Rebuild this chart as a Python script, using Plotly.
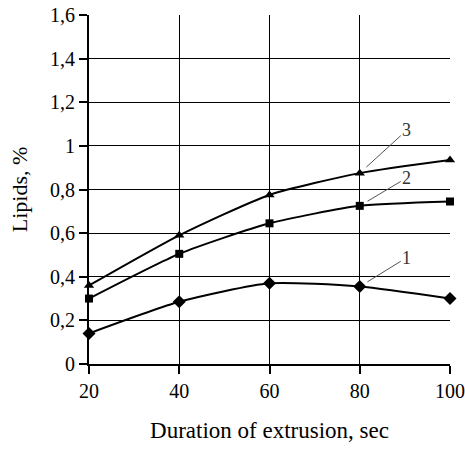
import plotly.graph_objects as go

durations = [20, 40, 60, 80, 100]
lipids_1 = [0.14, 0.285, 0.37, 0.355, 0.30]
lipids_2 = [0.30, 0.505, 0.645, 0.725, 0.745]
lipids_3 = [0.36, 0.59, 0.775, 0.875, 0.935]
series_labels = ["1", "2", "3"]
y_ticks = [0, 0.2, 0.4, 0.6, 0.8, 1, 1.2, 1.4, 1.6]
x_ticks = [20, 40, 60, 80, 100]

font = "Liberation Serif, Times New Roman, serif"
fig = go.Figure()
for ys, sym, sz in [(lipids_1, "diamond", 10), (lipids_2, "square", 8), (lipids_3, "triangle-up", 9)]:
    fig.add_trace(go.Scatter(
        x=durations, y=ys, mode="lines+markers",
        line=dict(color="black", width=2, shape="spline", smoothing=0.6),
        marker=dict(symbol=sym, size=sz, color="black"),
        showlegend=False, cliponaxis=False))

# leader-line labels
label_pos = [(80, 0.355, -29), (80, 0.725, -28), (80, 0.875, -43)]
for lab, (xv, yv, dy) in zip(series_labels, label_pos):
    fig.add_annotation(x=xv, y=yv, text=lab, showarrow=True, arrowhead=0,
                       arrowwidth=1, arrowcolor="#555555", ax=47, ay=dy, standoff=9,
                       font=dict(family=font, size=18, color="#333333"))

fig.update_layout(
    width=465, height=455,
    margin=dict(l=89, r=15, t=15, b=91),
    paper_bgcolor="white", plot_bgcolor="white",
    separators=",.",
    font=dict(family=font, size=20, color="black"),
    xaxis=dict(range=[20, 100], tickvals=x_ticks, showgrid=True, gridcolor="black", gridwidth=1,
               showline=True, linecolor="black", linewidth=2, ticks="outside", ticklen=8,
               tickwidth=2, tickcolor="black", zeroline=False, automargin=False,
               ticklabeloverflow="allow",
               title=dict(text="Duration of extrusion, sec", font=dict(size=23), standoff=21)),
    yaxis=dict(range=[0, 1.6], tickvals=y_ticks, showgrid=True, gridcolor="black", gridwidth=1,
               showline=True, linecolor="black", linewidth=2, ticks="outside", ticklen=8,
               tickwidth=2, tickcolor="black", zeroline=False, automargin=False,
               ticklabeloverflow="allow",
               title=dict(text="Lipids, %", font=dict(size=22), standoff=16)),
)
fig.write_html("out.html", config={"displayModeBar": False},
               post_script="document.body.style.margin='0';")
